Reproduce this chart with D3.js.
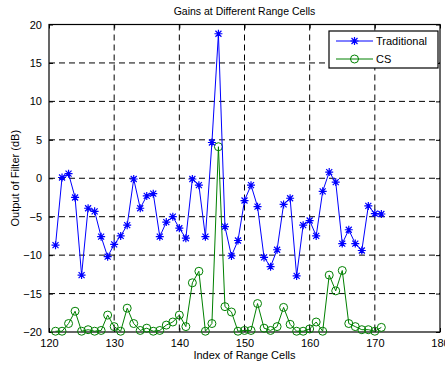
<!DOCTYPE html>
<html>
<head>
<meta charset="utf-8">
<script src="https://cdn.jsdelivr.net/npm/d3@7"></script>
<style>
  body { margin: 0; background: #fff; }
  text { font-family: "Liberation Sans", Arial, sans-serif; }
</style>
</head>
<body>
<div id="chart"></div>
<script>
// range cell indices
const cells = d3.range(121, 172);

// gains, dB
const traditional = [
  -8.7, 0.1, 0.6, -2.5, -12.6, -3.9, -4.3, -7.6, -10.2, -8.6,
  -7.5, -6.1, -0.1, -3.9, -2.3, -2.0, -7.6, -5.7, -5.0, -6.5,
  -7.8, -0.1, -0.9, -7.6, 4.65, 18.8, -6.3, -10.1, -8.1, -2.9,
  -0.9, -3.7, -10.3, -11.5, -9.3, -3.4, -2.6, -12.7, -6.1, -5.5,
  -7.5, -1.7, 0.8, -0.5, -8.5, -6.7, -8.5, -9.4, -3.6, -4.6, -4.65
];
const cs = [
  -19.9, -19.9, -18.9, -17.3, -19.9, -19.7, -19.9, -19.8, -17.8, -19.3,
  -19.9, -16.9, -18.9, -19.8, -19.5, -19.9, -19.8, -19.1, -18.7, -17.8,
  -19.3, -13.6, -12.1, -19.9, -18.9, 4.1, -16.7, -17.4, -19.9, -19.8,
  -19.8, -16.3, -19.5, -19.8, -19.3, -16.8, -19.0, -19.9, -19.9, -19.6,
  -18.7, -19.9, -12.6, -14.65, -12.0, -18.9, -19.3, -19.7, -19.7, -19.9, -19.4
];

const xTicks = [120, 130, 140, 150, 160, 170, 180];
const yTicks = [-20, -15, -10, -5, 0, 5, 10, 15, 20];

const W = 445, H = 367;
const margin = { left: 49, right: 5, top: 24.5, bottom: 35 };
const iw = W - margin.left - margin.right;
const ih = H - margin.top - margin.bottom;

const svg = d3.select("#chart").append("svg")
  .attr("width", W).attr("height", H);

const g = svg.append("g")
  .attr("transform", `translate(${margin.left},${margin.top})`);

const x = d3.scaleLinear().domain([120, 180]).range([0, iw]);
const y = d3.scaleLinear().domain([-20, 20]).range([ih, 0]);

// grid
g.append("g").selectAll("line")
  .data(xTicks.slice(1, -1))
  .join("line")
  .attr("x1", d => x(d)).attr("x2", d => x(d))
  .attr("y1", 0).attr("y2", ih)
  .attr("stroke", "#000").attr("stroke-width", 1)
  .attr("stroke-dasharray", "6,4");

g.append("g").selectAll("line")
  .data(yTicks.slice(1, -1))
  .join("line")
  .attr("x1", 0).attr("x2", iw)
  .attr("y1", d => y(d)).attr("y2", d => y(d))
  .attr("stroke", "#000").attr("stroke-width", 1)
  .attr("stroke-dasharray", "6,4");

// axes (ticks inside like matlab)
const fmt = d3.format("d");
const xAxis = g.append("g")
  .attr("transform", `translate(0,${ih})`)
  .call(d3.axisBottom(x).tickValues(xTicks).tickFormat(fmt).tickSizeInner(-4).tickSizeOuter(0).tickPadding(7));
const yAxis = g.append("g")
  .call(d3.axisLeft(y).tickValues(yTicks).tickFormat(fmt).tickSizeInner(-4).tickSizeOuter(0).tickPadding(7));
g.append("g")
  .call(d3.axisTop(x).tickValues(xTicks).tickFormat("").tickSizeInner(-4).tickSizeOuter(0));
g.append("g")
  .attr("transform", `translate(${iw},0)`)
  .call(d3.axisRight(y).tickValues(yTicks).tickFormat("").tickSizeInner(-4).tickSizeOuter(0));

svg.selectAll(".tick text").style("font-size", "11px").attr("fill", "#000");
svg.selectAll(".domain").remove();

g.append("rect")
  .attr("width", iw).attr("height", ih)
  .attr("fill", "none").attr("stroke", "#000").attr("stroke-width", 1.2);

// lines
const line = d3.line().x(d => x(d[0])).y(d => y(d[1]));
const tradPts = cells.map((c, i) => [c, traditional[i]]);
const csPts = cells.map((c, i) => [c, cs[i]]);

const star = d3.symbol().type(d3.symbolAsterisk).size(40);

g.append("path").datum(csPts)
  .attr("d", line).attr("fill", "none").attr("stroke", "#008000").attr("stroke-width", 1);
g.append("g").selectAll("circle").data(csPts).join("circle")
  .attr("cx", d => x(d[0])).attr("cy", d => y(d[1])).attr("r", 4)
  .attr("fill", "none").attr("stroke", "#008000").attr("stroke-width", 1);

g.append("path").datum(tradPts)
  .attr("d", line).attr("fill", "none").attr("stroke", "#0000ff").attr("stroke-width", 1);

function drawStar(sel) {
  sel.append("path").attr("d", "M-4,0H4M0,-4V4M-3,-3L3,3M-3,3L3,-3")
    .attr("stroke", "#0000ff").attr("stroke-width", 1.2).attr("fill", "none");
}
g.append("g").selectAll("g").data(tradPts).join("g")
  .attr("transform", d => `translate(${x(d[0])},${y(d[1])})`)
  .each(function () { drawStar(d3.select(this)); });

// legend
const lg = svg.append("g").attr("transform", "translate(329,31)");
lg.append("rect").attr("width", 109).attr("height", 37)
  .attr("fill", "#fff").attr("stroke", "#000").attr("stroke-width", 1.2);
const items = [
  { name: "Traditional", color: "#0000ff", mark: "star" },
  { name: "CS", color: "#008000", mark: "circle" }
];
items.forEach((it, i) => {
  const yy = 10 + i * 18;
  lg.append("line").attr("x1", 7).attr("x2", 44).attr("y1", yy).attr("y2", yy)
    .attr("stroke", it.color).attr("stroke-width", 1);
  if (it.mark === "star") {
    drawStar(lg.append("g").attr("transform", `translate(25.5,${yy})`));
  } else {
    lg.append("circle").attr("cx", 25.5).attr("cy", yy).attr("r", 4)
      .attr("fill", "none").attr("stroke", it.color);
  }
  lg.append("text").attr("x", 47).attr("y", yy + 4)
    .style("font-size", "11px").text(it.name);
});

// title and labels
svg.append("text")
  .attr("x", margin.left + iw / 2).attr("y", 15)
  .attr("text-anchor", "middle").style("font-size", "10.5px")
  .text("Gains at Different Range Cells");

svg.append("text")
  .attr("x", margin.left + iw / 2).attr("y", 359)
  .attr("text-anchor", "middle").style("font-size", "11px")
  .text("Index of Range Cells");

svg.append("text")
  .attr("transform", `translate(19,${margin.top + ih / 2}) rotate(-90)`)
  .attr("text-anchor", "middle").style("font-size", "11px")
  .text("Output of Filter (dB)");
</script>
</body>
</html>
